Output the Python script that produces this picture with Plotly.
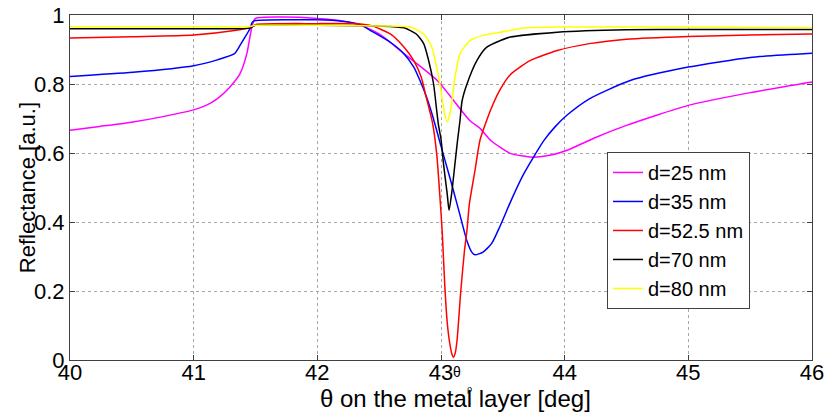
import plotly.graph_objects as go

# Reflectance vs. incidence angle for several metal-layer thicknesses
theta_25 = [40.0, 40.24, 40.51, 40.73, 41.0, 41.1, 41.19, 41.29, 41.375, 41.43, 41.455,
            41.474, 41.5, 41.7, 42.0, 42.2, 42.35, 42.5, 42.7, 42.97, 43.23, 43.32, 43.4,
            43.56, 43.74, 43.9, 44.02, 44.25, 44.5, 45.0, 45.5, 46.0]
refl_25 = [0.666, 0.677, 0.69, 0.704, 0.725, 0.738, 0.757, 0.79, 0.83, 0.888, 0.936,
           0.97, 0.99, 0.994, 0.99, 0.983, 0.97, 0.945, 0.888, 0.81, 0.695, 0.67, 0.637,
           0.599, 0.588, 0.595, 0.608, 0.645, 0.68, 0.738, 0.775, 0.806]

theta_35 = [40.0, 40.51, 41.0, 41.19, 41.33, 41.375, 41.415, 41.455, 41.474, 41.5, 42.0,
            42.2, 42.35, 42.43, 42.59, 42.7, 42.78, 42.83, 42.88, 42.93, 43.0, 43.09,
            43.15, 43.21, 43.25, 43.275, 43.34, 43.41, 43.48, 43.57, 43.67, 43.83, 43.92,
            44.02, 44.2, 44.53, 45.0, 45.5, 46.0]
refl_35 = [0.822, 0.834, 0.853, 0.87, 0.888, 0.912, 0.936, 0.96, 0.979, 0.984, 0.986,
           0.982, 0.972, 0.955, 0.921, 0.888, 0.849, 0.81, 0.765, 0.71, 0.62, 0.505,
           0.425, 0.345, 0.312, 0.305, 0.313, 0.338, 0.39, 0.465, 0.54, 0.635, 0.675,
           0.71, 0.757, 0.81, 0.849, 0.877, 0.889]

theta_52 = [40.0, 40.5, 41.0, 41.33, 41.47, 41.5, 42.0, 42.3, 42.43, 42.59, 42.7, 42.78,
            42.84, 42.88, 42.93, 42.965, 42.99, 43.01, 43.03, 43.05, 43.07, 43.09, 43.1,
            43.115, 43.13, 43.16, 43.19, 43.21, 43.23, 43.275, 43.315, 43.37, 43.4, 43.48,
            43.56, 43.72, 43.94, 44.2, 44.5, 45.0, 45.5, 46.0]
refl_52 = [0.933, 0.937, 0.942, 0.955, 0.965, 0.972, 0.975, 0.975, 0.97, 0.945, 0.907, 0.868,
           0.82, 0.762, 0.69, 0.598, 0.48, 0.37, 0.22, 0.11, 0.05, 0.015, 0.008,
           0.02, 0.058, 0.2, 0.318, 0.376, 0.454, 0.55, 0.637, 0.695, 0.724, 0.785,
           0.827, 0.868, 0.897, 0.917, 0.93, 0.938, 0.942, 0.945]

theta_70 = [40.0, 41.0, 41.45, 41.5, 42.0, 42.5, 42.7, 42.8, 42.86, 42.9, 42.94, 42.965,
            42.98, 43.0, 43.02, 43.05, 43.065, 43.086, 43.113, 43.135, 43.154, 43.17,
            43.21, 43.29, 43.37, 43.48, 43.56, 43.94, 44.5, 45.0, 46.0]
refl_70 = [0.96, 0.96, 0.962, 0.97, 0.97, 0.968, 0.963, 0.945, 0.917, 0.868, 0.80, 0.724,
           0.68, 0.64, 0.569, 0.482, 0.434, 0.482, 0.569, 0.64, 0.695, 0.75,
           0.80, 0.868, 0.907, 0.926, 0.936, 0.95, 0.957, 0.958, 0.958]

theta_80 = [40.0, 41.0, 41.45, 41.5, 42.0, 42.5, 42.75, 42.86, 42.925, 42.965, 43.0,
            43.024, 43.05, 43.078, 43.113, 43.154, 43.234, 43.34, 43.48, 43.67, 44.0,
            45.0, 46.0]
refl_80 = [0.966, 0.966, 0.966, 0.97, 0.97, 0.968, 0.965, 0.945, 0.907, 0.849, 0.781,
           0.724, 0.69, 0.724, 0.82, 0.888, 0.926, 0.941, 0.95, 0.962, 0.965,
           0.965, 0.963]

series = [
    ("d=25 nm", theta_25, refl_25, "#ff00ff"),
    ("d=35 nm", theta_35, refl_35, "#0000ff"),
    ("d=52.5 nm", theta_52, refl_52, "#ff0000"),
    ("d=70 nm", theta_70, refl_70, "#000000"),
    ("d=80 nm", theta_80, refl_80, "#ffff00"),
]

x_ticks = [40, 41, 42, 43, 44, 45, 46]
y_ticks = [0, 0.2, 0.4, 0.6, 0.8, 1]
y_tick_labels = ["0", "0.2", "0.4", "0.6", "0.8", "1"]

FONT = "Liberation Sans, Arial, sans-serif"
AXIS_COLOR = "#404040"
GRID_COLOR = "#a8a8a8"

fig = go.Figure()
for name, xs, ys, color in series:
    fig.add_trace(go.Scatter(x=xs, y=ys, mode="lines", name=name,
                             line=dict(color=color, width=1.5, shape="spline",
                                       smoothing=0.6)))

axis_common = dict(
    showline=True, linecolor=AXIS_COLOR, linewidth=1, mirror="ticks",
    ticks="inside", ticklen=5, tickcolor=AXIS_COLOR, tickwidth=1,
    showgrid=True, gridcolor=GRID_COLOR, griddash="dot", gridwidth=1,
    zeroline=False, automargin=False,
    tickfont=dict(family=FONT, size=22, color="#000000"),
)

fig.update_xaxes(range=[40, 46], tickvals=x_ticks, ticktext=[str(v) for v in x_ticks],
                 ticklabelstandoff=-7, **axis_common)
fig.update_yaxes(range=[0, 1], tickvals=y_ticks, ticktext=y_tick_labels, **axis_common)

fig.update_layout(
    width=825, height=413,
    margin=dict(l=70, r=13, t=15, b=53, autoexpand=False),
    paper_bgcolor="white", plot_bgcolor="white",
    font=dict(family=FONT, size=21, color="#000000"),
    showlegend=True,
    legend=dict(x=0.7237, y=0.603, xanchor="left", yanchor="top",
                bgcolor="white", bordercolor=AXIS_COLOR, borderwidth=1,
                font=dict(family=FONT, size=20, color="#000000"),
                tracegroupgap=0, itemwidth=30),
    annotations=[
        dict(text="\u03b8 on the metal layer [deg]", xref="paper", yref="paper",
             x=0.52, y=-0.113, xanchor="center", yanchor="middle", showarrow=False,
             font=dict(family=FONT, size=24, color="#000000")),
        dict(text="Reflectance [a.u.]", xref="paper", yref="paper",
             x=-0.057, y=0.5, xanchor="center", yanchor="middle", textangle=-90,
             showarrow=False, font=dict(family=FONT, size=22, color="#000000")),
        dict(text="\u03b8", xref="x", yref="paper", x=43.13, y=-0.035,
             xanchor="center", yanchor="middle", showarrow=False,
             font=dict(family=FONT, size=14, color="#000000")),
        dict(text="\u03c1", xref="x", yref="paper", x=43.23, y=-0.084,
             xanchor="center", yanchor="middle", showarrow=False,
             font=dict(family=FONT, size=9, color="#000000")),
    ],
)

fig.write_html("out.html")
